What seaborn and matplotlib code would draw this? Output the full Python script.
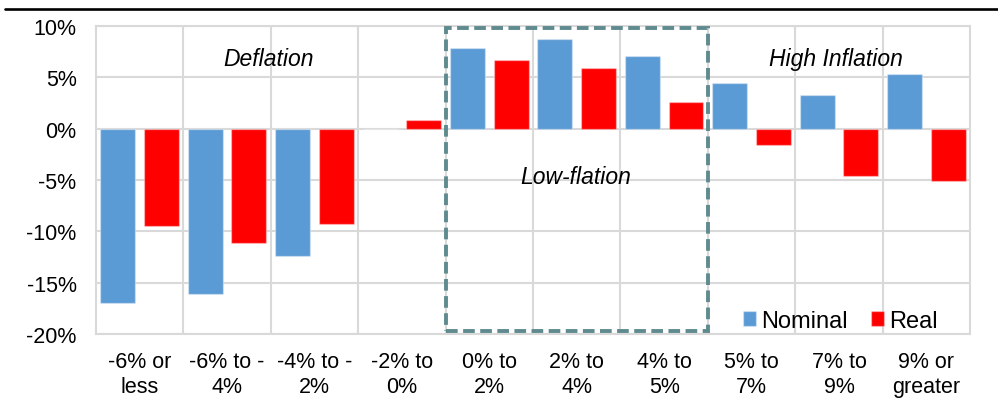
import matplotlib
matplotlib.use("Agg")
import matplotlib.pyplot as plt
from matplotlib.patches import Rectangle
from matplotlib.lines import Line2D
from matplotlib.ticker import FixedLocator
import pandas as pd
import seaborn as sns

# Average annual returns by inflation regime
categories = ["-6% or\nless", "-6% to -\n4%", "-4% to -\n2%", "-2% to\n0%", "0% to\n2%",
              "2% to\n4%", "4% to\n5%", "5% to\n7%", "7% to\n9%", "9% or\ngreater"]
nominal = [-17.0, -16.1, -12.4, 0.0, 7.9, 8.7, 7.1, 4.4, 3.3, 5.3]
real = [-9.5, -11.1, -9.3, 0.8, 6.7, 5.9, 2.6, -1.6, -4.6, -5.1]
series_names = ["Nominal", "Real"]
y_ticks = [10, 5, 0, -5, -10, -15, -20]
y_tick_labels = [f"{v}%" for v in y_ticks]

df = pd.DataFrame({
    "category": categories * 2,
    "series": [series_names[0]] * len(categories) + [series_names[1]] * len(categories),
    "value": nominal + real,
})

sns.set_theme(style="white")
plt.rcParams["font.family"] = ["Liberation Sans", "DejaVu Sans"]
plt.rcParams["text.color"] = "black"

fig = plt.figure(figsize=(9.98, 4.14), dpi=100)
ax = fig.add_axes([0.0962, 0.1908, 0.8758, 0.744])

palette = {"Nominal": "#5B9BD5", "Real": "#FF0000"}
sns.barplot(data=df, x="category", y="value", hue="series", order=categories,
            hue_order=series_names, palette=palette, width=1.0, gap=0.2,
            saturation=1, edgecolor=(1, 1, 1, 0.35), linewidth=1.0, ax=ax, zorder=3)

grid_color = "#D9D9D9"
ax.set_xlim(-0.5, len(categories) - 0.5)
ax.set_ylim(-20, 10)
ax.set_yticks(y_ticks)
ax.set_yticklabels(y_tick_labels)
ax.xaxis.set_minor_locator(FixedLocator([i + 0.5 for i in range(len(categories) - 1)]))
ax.grid(axis="y", which="major", color=grid_color, linewidth=1.5, zorder=0)
ax.grid(axis="x", which="minor", color=grid_color, linewidth=1.5, zorder=0)
ax.grid(axis="x", which="major", visible=False)
ax.set_axisbelow(True)
for spine in ax.spines.values():
    spine.set_color(grid_color)
    spine.set_linewidth(1.5)
ax.tick_params(axis="both", which="both", length=0, labelsize=15.5, colors="#000000")
ax.tick_params(axis="y", pad=14)
ax.tick_params(axis="x", pad=12)
for lbl in ax.get_xticklabels():
    lbl.set_linespacing(1.3)
ax.set_xlabel("")
ax.set_ylabel("")

# Low-flation regime highlight
ax.add_patch(Rectangle((3.5, -19.7), 3.0, 29.5, fill=False, edgecolor="#5F8B8F",
                       linewidth=2.8, linestyle=(0, (3.0, 1.4)), zorder=5, clip_on=False))

ax.text(1.47, 6.8, "Deflation", ha="center", va="center", fontsize=16.5, style="italic", zorder=6)
ax.text(7.97, 6.8, "High Inflation", ha="center", va="center", fontsize=16.5, style="italic", zorder=6)
ax.text(4.99, -4.7, "Low-flation", ha="center", va="center", fontsize=16.5, style="italic", zorder=6)

handles, labels = ax.get_legend_handles_labels()
ax.legend(handles, labels, loc="center right", bbox_to_anchor=(0.963, 0.043), ncol=2,
          frameon=False, fontsize=17, handlelength=0.55, handleheight=0.55,
          handletextpad=0.2, columnspacing=1.0, borderpad=0, borderaxespad=0)

# Rule above the chart
fig.add_artist(Line2D([0.005, 1.0], [0.976, 0.976], color="black", linewidth=1.9,
                      transform=fig.transFigure))

fig.savefig("out.png", dpi=100)
